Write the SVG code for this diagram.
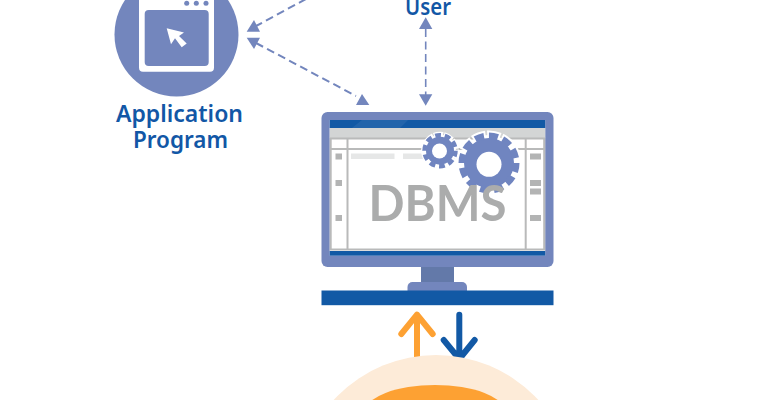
<svg xmlns="http://www.w3.org/2000/svg" width="768" height="400" viewBox="0 0 768 400">
<style>
.lbl{font-family:"Noto Sans","Open Sans","Liberation Sans",sans-serif;font-size:23px;font-weight:600;fill:#1257a6;text-anchor:middle}
.dash{fill:none;stroke:#7386bd;stroke-width:2;stroke-dasharray:8 4.500}
.tri{fill:#7386bd}
.g{fill:#b3b4b4}
.l{fill:#e6e7e7}
.gear{fill:#7085c0}
.fr{fill:none;stroke:#b9baba;stroke-width:2}
</style>
<rect width="768" height="400" fill="#fff"/>
<g id="connectors">
<path class="dash" d="M306 -1L256 26"/>
<polygon class="tri" points="246.700,31.700 260,31.700 254,20"/>
<path class="dash" d="M256 43L356 96"/>
<polygon class="tri" points="246.700,37.700 260,37.700 254,49"/>
<polygon class="tri" points="356,105 369.300,105 362,94"/>
<path class="dash" d="M425.700 29V95" style="stroke-width:1.600"/>
<polygon class="tri" points="425.700,17.300 419,29 432.300,29"/>
<polygon class="tri" points="419,94.300 432.300,94.300 425.700,105.700"/>
<path d="M417 359V314.700M401.300 334L417 314.700L432.700 334" fill="none" stroke="#fda133" stroke-width="6" stroke-linecap="round" stroke-linejoin="round"/>
<path d="M459.300 314.700V359M443.700 340L459.300 359L474.700 340" fill="none" stroke="#1259a5" stroke-width="6" stroke-linecap="round" stroke-linejoin="round"/>
</g>
<g id="application-program">
<circle cx="176.500" cy="34.500" r="62" fill="#7386bd"/>
<rect x="139" y="-20" width="75" height="91.700" rx="4" fill="#fff"/>
<rect x="144.700" y="10" width="64" height="56" rx="4" fill="#7386bd"/>
<circle cx="186.700" cy="3.300" r="2.500" fill="#7386bd"/>
<circle cx="196.300" cy="3.300" r="2.500" fill="#7386bd"/>
<circle cx="206" cy="3.300" r="2.500" fill="#7386bd"/>
<polygon points="166.700,28.300 184,32.500 179,36 186.700,43.500 181.700,47.300 175,38.300 171,44.300" fill="#fff"/>
<text class="lbl" x="179.500" y="121.700" textLength="127" lengthAdjust="spacingAndGlyphs">Application</text>
<text class="lbl" x="180.500" y="148.300" textLength="95" lengthAdjust="spacingAndGlyphs">Program</text>
</g>
<g id="user">
<text class="lbl" x="428" y="14.500" textLength="46" lengthAdjust="spacingAndGlyphs">User</text>
</g>
<g id="dbms">
<rect x="421" y="260" width="33" height="26" fill="#6379a9"/>
<path d="M407.500 291V287a5 5 0 0 1 5-5H462a5 5 0 0 1 5 5V291Z" fill="#7386bd"/>
<rect x="321.500" y="290.500" width="232" height="14.700" fill="#1259a5"/>
<rect x="321.500" y="112" width="232" height="155" rx="6" fill="#7386bd"/>
<rect x="329.700" y="120" width="215.500" height="135.700" fill="#fff"/>
<rect x="329.700" y="120" width="215.500" height="8" fill="#1259a5"/>
<polygon points="362,120 408,120 400,128 352,128" fill="#fff" opacity=".07"/>
<rect x="329.700" y="128" width="215.500" height="10" fill="#d3d5d5"/>
<rect x="330.700" y="138.500" width="213.500" height="111" class="fr"/>
<path class="fr" d="M331 149H545M347.500 138.500V249.500M525.700 138.500V249.500"/>
<rect x="329.700" y="251" width="215.500" height="4.700" fill="#1259a5"/>
<rect class="g" x="335.500" y="153.500" width="6.500" height="6"/>
<rect class="g" x="335.500" y="180" width="6.500" height="6"/>
<rect class="g" x="335.500" y="215" width="6.500" height="6"/>
<rect class="g" x="530" y="153.500" width="11" height="6"/>
<rect class="g" x="530" y="180" width="11" height="6"/>
<rect class="g" x="530" y="188.500" width="11" height="6"/>
<rect class="g" x="530" y="215" width="11" height="6"/>
<rect class="l" x="351" y="153.500" width="43.500" height="5.500"/>
<rect class="l" x="403" y="153.500" width="30" height="5.500"/>
<rect class="l" x="450" y="153.500" width="70" height="5.500"/>
<g id="gear-small">
<circle cx="440" cy="150.700" r="16" fill="#fff"/>
<circle cx="440" cy="150.700" r="15" fill="none" stroke="#fff" stroke-width="8" pathLength="100" stroke-dasharray="9 1" stroke-dashoffset="1"/>
<circle class="gear" cx="440" cy="150.700" r="14"/>
<circle cx="440" cy="150.700" r="15.500" fill="none" stroke="#7085c0" stroke-width="4.500" pathLength="100" stroke-dasharray="6 4"/>
<circle cx="439.500" cy="151" r="7.500" fill="#fff"/>
</g>
<g id="gear-large">
<circle cx="489" cy="163" r="28" fill="#fff"/>
<circle cx="489" cy="163" r="27" fill="none" stroke="#fff" stroke-width="11" pathLength="100" stroke-dasharray="7.330 1" stroke-dashoffset="1"/>
<circle class="gear" cx="489" cy="163" r="25"/>
<circle cx="489" cy="163" r="27" fill="none" stroke="#7085c0" stroke-width="7" pathLength="100" stroke-dasharray="5.330 3"/>
<circle cx="489" cy="164.300" r="12.500" fill="#fff"/>
</g>
<text x="437.500" y="221" font-family="Lato,'Open Sans',sans-serif" font-weight="700" font-size="49" fill="#abacac" text-anchor="middle" textLength="138" lengthAdjust="spacingAndGlyphs">DBMS</text>
</g>
<g id="database">
<circle cx="436" cy="494" r="139" fill="#fdebd8"/>
<ellipse cx="435" cy="412" rx="70" ry="27" fill="#fda133"/>
</g>
</svg>
